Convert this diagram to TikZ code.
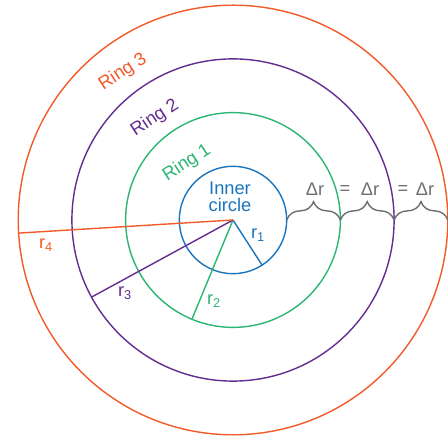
\documentclass[tikz,border=0pt]{standalone}
\usepackage{fontspec}
\setmainfont{Liberation Sans}
\usetikzlibrary{decorations.pathreplacing}
\definecolor{innerblue}{HTML}{1B75BC}
\definecolor{ringgreen}{HTML}{2BB673}
\definecolor{ringpurple}{HTML}{662D91}
\definecolor{ringorange}{HTML}{F15A29}
\definecolor{bracegray}{HTML}{6D6E71}
\tikzset{
  lbl/.style={font=\fontsize{13}{12}\selectfont, inner sep=1pt},
  dbrace/.style={bracegray, decorate, decoration={brace, amplitude=13pt}},
}

\begin{document}
\begin{tikzpicture}[x=0.025cm, y=0.025cm, line width=1pt]
    \useasboundingbox (0,0) rectangle (448,440);
    \def\dr{53.7}
    \coordinate (O) at (233,220);

    % Circles
    \draw[innerblue]  (O) circle (\dr);
    \draw[ringgreen]  (O) circle (2*\dr);
    \draw[ringpurple] (O) circle (3*\dr);
    \draw[ringorange] (O) circle (4*\dr);

    % Radii
    \path (O) ++(302.8:\dr) coordinate (R1);
    \path (O) ++(247.5:2*\dr) coordinate (R2);
    \path (O) ++(208.6:3*\dr) coordinate (R3);
    \path (O) ++(183.5:4*\dr) coordinate (R4);
    \draw[innerblue]  (O) -- (R1);
    \draw[ringgreen]  (O) -- (R2);
    \draw[ringpurple] (O) -- (R3);
    \draw[ringorange] (O) -- (R4);
    \node[lbl, innerblue]  (r1) at (258,205) {r\textsubscript{1}};
    \node[lbl, ringgreen]  (r2) at (214,139) {r\textsubscript{2}};
    \node[lbl, ringpurple] (r3) at (125,147) {r\textsubscript{3}};
    \node[lbl, ringorange] (r4) at (46,195) {r\textsubscript{4}};

    % Labels
    \node[lbl, innerblue, align=center] (inner) at (230,243) {Inner\\circle};
    \node[lbl, ringgreen, rotate=33]  (ring1) at (187,277) {Ring 1};
    \node[lbl, ringpurple, rotate=33] (ring2) at (155,322) {Ring 2};
    \node[lbl, ringorange, rotate=33] (ring3) at (123,368) {Ring 3};

    % Braces: Delta r
    \path (O) ++(\dr,0) coordinate (B0) ++(\dr,0) coordinate (B1)
          ++(\dr,0) coordinate (B2) ++(\dr,0) coordinate (B3);
    \draw[dbrace] (B0) -- (B1);
    \draw[dbrace] (B1) -- (B2);
    \draw[dbrace] (B2) -- (B3);
    \node[lbl, bracegray] (d1) at (315,251) {Δr};
    \node[lbl, bracegray] (e1) at (345,250) {=};
    \node[lbl, bracegray] (d2) at (370,251) {Δr};
    \node[lbl, bracegray] (e2) at (403,250) {=};
    \node[lbl, bracegray] (d3) at (425,251) {Δr};
\end{tikzpicture}
\end{document}
